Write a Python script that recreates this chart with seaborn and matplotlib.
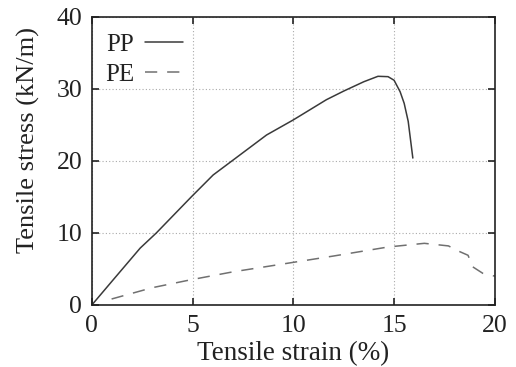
import numpy as np
import pandas as pd
import matplotlib
matplotlib.use("Agg")
import matplotlib.pyplot as plt
import seaborn as sns

pp_strain = [0, 1.0, 2.4, 3.2, 4.95, 6.02, 7.0, 8.67, 10.0, 11.64, 12.5, 13.5, 14.2, 14.7, 15.0, 15.3, 15.5, 15.7, 15.93]
pp_stress = [0, 3.3, 7.9, 10.0, 15.05, 18.05, 20.1, 23.6, 25.7, 28.5, 29.7, 31.0, 31.75, 31.7, 31.2, 29.6, 28.0, 25.5, 20.4]

pe_strain = [0.98, 3.0, 4.86, 7.0, 9.73, 12.0, 14.7, 16.5, 17.7, 18.1, 18.67, 18.9, 19.4, 20.0]
pe_stress = [0.83, 2.4, 3.47, 4.6, 5.8, 6.8, 8.05, 8.56, 8.2, 7.6, 6.9, 5.3, 4.4, 4.0]

df = pd.concat([
    pd.DataFrame({"strain": pp_strain, "stress": pp_stress, "mat": "PP"}),
    pd.DataFrame({"strain": pe_strain, "stress": pe_stress, "mat": "PE"}),
])

sns.set_style("ticks")
plt.rcParams["font.family"] = ["Liberation Serif", "DejaVu Serif"]

fig = plt.figure(figsize=(5.16, 3.67), dpi=100)
ax = fig.add_axes([0.178, 0.169, 0.781, 0.785])

sns.lineplot(data=df, x="strain", y="stress", hue="mat", style="mat",
             palette={"PP": "#3a3a3a", "PE": "#707070"},
             dashes={"PP": "", "PE": (8, 6.5)}, estimator=None, sort=False,
             linewidth=1.1, ax=ax)

ax.set_xlim(0, 20)
ax.set_ylim(0, 40)
ax.set_xticks([0, 5, 10, 15, 20])
ax.set_yticks([0, 10, 20, 30, 40])
ax.grid(True, linestyle=(0, (1, 2)), color="#aaaaaa", linewidth=0.8)
ax.tick_params(direction="in", length=5, width=1.2, top=True, right=True,
               labelsize=18.5, colors="#222222")
ax.tick_params(axis="y", pad=7)
ax.tick_params(axis="x", pad=7)
for s in ax.spines.values():
    s.set_linewidth(1.2)
    s.set_color("#222222")
ax.set_xlabel("Tensile strain (%)", fontsize=19.5, color="#222222", labelpad=3)
ax.set_ylabel("Tensile stress (kN/m)", fontsize=19, color="#222222")
ax.yaxis.set_label_coords(-0.128, 0.573)

leg = ax.legend(loc="upper left", frameon=False, markerfirst=False, fontsize=18,
                handlelength=1.5, handletextpad=0.45, labelspacing=0.3,
                borderaxespad=0.35, borderpad=0.3, title=None,
                bbox_to_anchor=(-0.008, 1.0))
for t in leg.get_texts():
    t.set_color("#222222")

fig.savefig("out.png", dpi=100)
